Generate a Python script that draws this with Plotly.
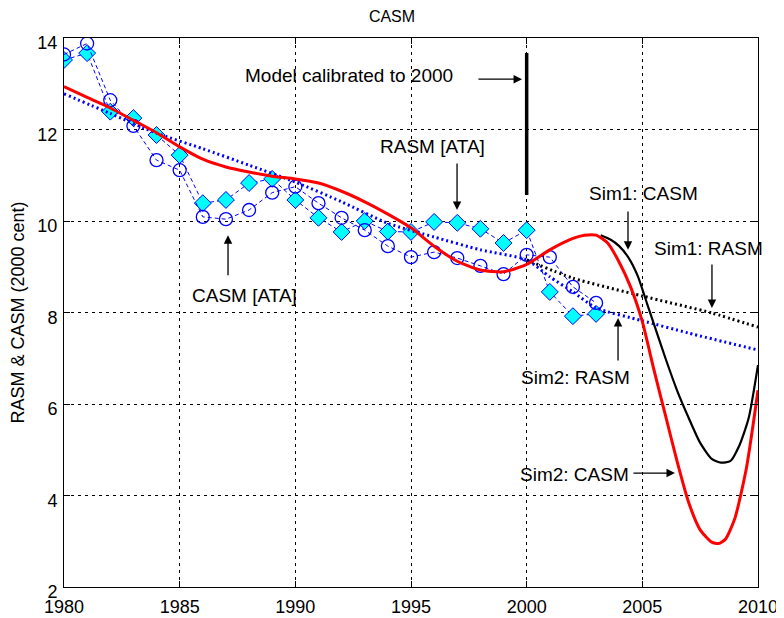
import plotly.graph_objects as go

# ---- observed data (ATA) ----
obs_years = list(range(1980, 2004))
casm_ata = [13.64, 13.88, 12.64, 12.08, 11.33, 11.11, 10.09, 10.04, 10.24, 10.62,
            10.75, 10.39, 10.07, 9.80, 9.45, 9.21, 9.32, 9.19, 9.02, 8.84,
            9.26, 9.21, 8.56, 8.21]
rasm_ata = [13.52, 13.67, 12.39, 12.25, 11.88, 11.44, 10.39, 10.46, 10.83, 10.92,
            10.46, 10.07, 9.76, 10.00, 9.77, 9.76, 9.98, 9.96, 9.83, 9.52,
            9.80, 8.45, 7.92, 7.97]

# ---- model / Sim2 CASM (red) ----
sim2_casm_years = [1980, 1981, 1982, 1983, 1984, 1985, 1986, 1987, 1988, 1989, 1990,
                   1991, 1992, 1993, 1994, 1995, 1996, 1997, 1998, 1999, 2000,
                   2001, 2002, 2002.5, 2003, 2003.5, 2004, 2004.5, 2005, 2005.5,
                   2006, 2006.5, 2007, 2007.5, 2008, 2008.3, 2008.6, 2009, 2009.5, 2010]
sim2_casm = [12.94, 12.70, 12.47, 12.20, 11.93, 11.62, 11.35, 11.18, 11.07, 10.98, 10.92,
             10.83, 10.65, 10.42, 10.15, 9.85, 9.45, 9.12, 8.93, 8.89, 9.05,
             9.37, 9.62, 9.69, 9.69, 9.52, 9.10, 8.55, 7.80, 6.75,
             5.75, 4.75, 3.85, 3.25, 2.98, 2.95, 3.05, 3.50, 4.60, 6.30]

# ---- Sim1 CASM (black solid) ----
sim1_casm_years = [2003.2, 2003.6, 2004, 2004.4, 2004.8, 2005.2, 2005.6, 2006, 2006.5,
                   2007, 2007.5, 2008, 2008.4, 2008.8, 2009.2, 2009.6, 2010]
sim1_casm = [9.69, 9.60, 9.45, 9.20, 8.80, 8.20, 7.60, 7.00, 6.30,
             5.70, 5.15, 4.80, 4.72, 4.75, 5.10, 5.70, 6.85]

# ---- model / Sim2 RASM (blue dotted) ----
sim2_rasm_years = [1980, 1982, 1984, 1986, 1988, 1990, 1992, 1994, 1996, 1998, 2000,
                   2001, 2002, 2003, 2005, 2007, 2010]
sim2_rasm = [12.78, 12.35, 11.92, 11.58, 11.22, 10.85, 10.42, 9.95, 9.65, 9.37, 9.15,
             8.78, 8.45, 8.10, 7.82, 7.55, 7.18]

# ---- Sim1 RASM (black dotted) ----
sim1_rasm_years = [2000, 2002, 2005, 2008, 2010]
sim1_rasm = [9.15, 8.75, 8.36, 7.99, 7.68]

# ---- calibration marker ----
calib_x = [2000, 2000]
calib_y = [10.57, 13.67]

FONT = "Liberation Sans, Arial, sans-serif"

fig = go.Figure()

fig.add_trace(go.Scatter(x=obs_years, y=rasm_ata, mode="lines+markers",
                         line=dict(color="#0000ff", width=1, dash="4px,3px"),
                         marker=dict(symbol="diamond", size=13, color="#00ffff",
                                     line=dict(color="#0000ff", width=1)),
                         name="RASM [ATA]"))
fig.add_trace(go.Scatter(x=obs_years, y=casm_ata, mode="lines+markers",
                         line=dict(color="#0000ff", width=1, dash="4px,3px"),
                         marker=dict(symbol="circle-open", size=13, color="#0000ff",
                                     line=dict(color="#0000ff", width=1.3)),
                         name="CASM [ATA]"))
fig.add_trace(go.Scatter(x=sim2_rasm_years, y=sim2_rasm, mode="lines",
                         line=dict(color="#0000ff", width=3, dash="2px,3px", shape="spline", smoothing=0.6),
                         name="Sim2: RASM"))
fig.add_trace(go.Scatter(x=sim1_rasm_years, y=sim1_rasm, mode="lines",
                         line=dict(color="#000000", width=3, dash="2px,3px", shape="spline", smoothing=0.6),
                         name="Sim1: RASM"))
fig.add_trace(go.Scatter(x=sim1_casm_years, y=sim1_casm, mode="lines",
                         line=dict(color="#000000", width=2.2, shape="spline", smoothing=0.6),
                         name="Sim1: CASM"))
fig.add_trace(go.Scatter(x=sim2_casm_years, y=sim2_casm, mode="lines",
                         line=dict(color="#ff0000", width=3, shape="spline", smoothing=0.6),
                         name="Sim2: CASM"))
fig.add_trace(go.Scatter(x=calib_x, y=calib_y, mode="lines",
                         line=dict(color="#000000", width=3.5), name="calibration"))

texts = [
    ("Model calibrated to 2000", 1992.32, 13.17),
    ("RASM [ATA]", 1995.91, 11.62),
    ("CASM [ATA]", 1987.82, 8.38),
    ("Sim1: CASM", 2005.03, 10.61),
    ("Sim1: RASM", 2007.88, 9.39),
    ("Sim2: RASM", 2002.09, 6.57),
    ("Sim2: CASM", 2002.05, 4.47),
]
arrows = [  # (tail_x, tail_y, head_x, head_y)
    (1997.85, 13.10, 1999.80, 13.10),
    (1996.99, 11.29, 1996.99, 10.24),
    (1987.09, 8.78, 1987.09, 9.69),
    (2004.38, 10.24, 2004.38, 9.37),
    (2008.01, 9.08, 2008.01, 8.10),
    (2003.95, 6.92, 2003.95, 7.88),
    (2004.55, 4.49, 2006.41, 4.49),
]
annotations = []
for t, x, y in texts:
    annotations.append(dict(text=t, x=x, y=y, xref="x", yref="y", showarrow=False,
                            font=dict(family=FONT, size=19, color="#000000"),
                            xanchor="center", yanchor="middle"))
for tx, ty, hx, hy in arrows:
    annotations.append(dict(text="", x=hx, y=hy, ax=tx, ay=ty, xref="x", yref="y",
                            axref="x", ayref="y", showarrow=True, arrowhead=2,
                            arrowsize=1.3, arrowwidth=1.3, arrowcolor="#000000",
                            standoff=0, startstandoff=0))

axis_common = dict(showline=True, linecolor="#000000", linewidth=1, mirror="ticks",
                   ticks="inside", ticklen=6, tickcolor="#000000",
                   showgrid=True, gridcolor="#000000", gridwidth=1, griddash="3px,4px",
                   zeroline=False, automargin=False,
                   tickfont=dict(family=FONT, size=18, color="#000000"))

# page body has an 8px default margin, so the figure is sized to fit the window
W, H = 776, 610
fig.update_layout(
    width=W, height=H,
    margin=dict(l=56, r=26, t=30, b=31),
    paper_bgcolor="#ffffff", plot_bgcolor="#ffffff",
    showlegend=False,
    title=dict(text="CASM", x=(392 - 8) / W, xanchor="center", y=1 - 8 / H, yanchor="middle",
               font=dict(family=FONT, size=16, color="#000000")),
    xaxis=dict(range=[1980, 2010], tickvals=[1980, 1985, 1990, 1995, 2000, 2005, 2010],
               ticklabelstandoff=3, **axis_common),
    yaxis=dict(range=[2, 14], tickvals=[2, 4, 6, 8, 10, 12, 14],
               ticklabelshift=5, ticklabelstandoff=2,
               title=dict(text="RASM & CASM (2000 cent)", standoff=14,
                          font=dict(family=FONT, size=18, color="#000000")),
               **axis_common),
    annotations=annotations,
)

fig.write_html("out.html")
